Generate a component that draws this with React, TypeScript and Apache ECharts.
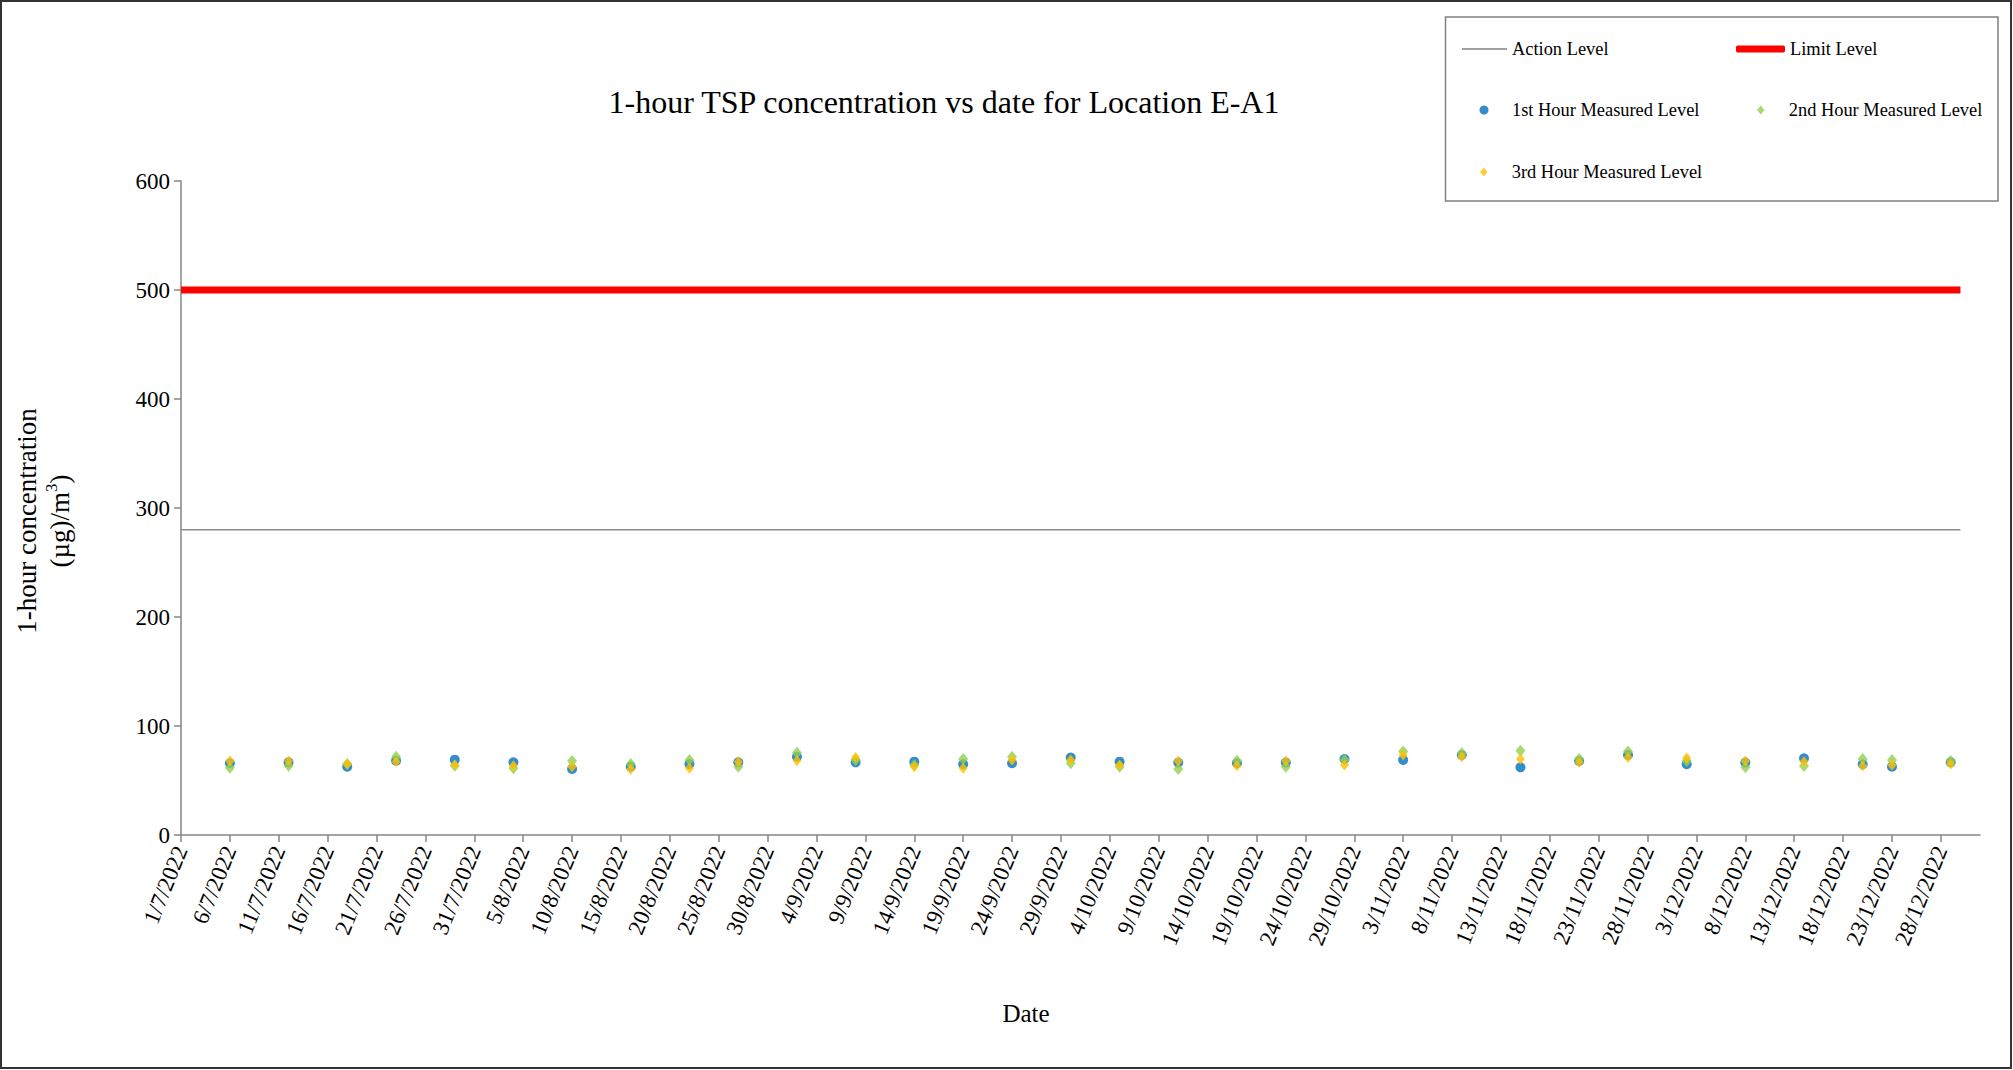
import React, { useEffect, useRef } from 'react';
import * as echarts from 'echarts';

// ---------- data ----------
const sampleDates = [
  '6/7/2022', '12/7/2022', '18/7/2022', '23/7/2022', '29/7/2022',
  '4/8/2022', '10/8/2022', '16/8/2022', '22/8/2022', '27/8/2022',
  '2/9/2022', '8/9/2022', '14/9/2022', '19/9/2022', '24/9/2022', '30/9/2022',
  '5/10/2022', '11/10/2022', '17/10/2022', '22/10/2022', '28/10/2022',
  '3/11/2022', '9/11/2022', '15/11/2022', '21/11/2022', '26/11/2022',
  '2/12/2022', '8/12/2022', '14/12/2022', '20/12/2022', '23/12/2022', '29/12/2022',
];
const hour1 = [65.8, 66.7, 62.7, 68.2, 69.1, 66.7, 60.6, 62.7, 65.1, 66.7, 71.9, 66.7, 67.3, 64.9, 65.8, 71.0, 67.3, 66.4, 65.8, 66.4, 69.7, 68.8, 73.4, 62.1, 67.9, 73.4, 64.9, 66.4, 70.3, 64.9, 62.7, 66.7];
const hour2 = [61.8, 63.6, 65.1, 71.9, 63.6, 61.2, 67.9, 65.1, 68.8, 62.7, 75.5, 68.8, 64.2, 69.7, 71.9, 65.8, 62.7, 60.6, 68.2, 62.7, 68.8, 76.5, 74.9, 77.4, 69.7, 76.5, 67.9, 62.1, 63.3, 69.7, 68.8, 67.9];
const hour3 = [67.9, 67.9, 65.1, 67.3, 64.2, 63.6, 62.7, 60.3, 61.2, 67.3, 68.2, 71.2, 62.7, 61.2, 68.8, 68.8, 64.2, 67.9, 63.6, 67.9, 64.2, 73.4, 71.9, 69.7, 66.7, 71.2, 70.6, 67.9, 67.3, 63.3, 64.2, 65.1];

const actionLevel = 280;
const limitLevel = 500;
const levelLineDates = ['1/7/2022', '30/12/2022'];
const axisRange = ['1/7/2022', '1/1/2023'];
const tickDates = [
  '1/7/2022', '6/7/2022', '11/7/2022', '16/7/2022', '21/7/2022', '26/7/2022', '31/7/2022',
  '5/8/2022', '10/8/2022', '15/8/2022', '20/8/2022', '25/8/2022', '30/8/2022',
  '4/9/2022', '9/9/2022', '14/9/2022', '19/9/2022', '24/9/2022', '29/9/2022',
  '4/10/2022', '9/10/2022', '14/10/2022', '19/10/2022', '24/10/2022', '29/10/2022',
  '3/11/2022', '8/11/2022', '13/11/2022', '18/11/2022', '23/11/2022', '28/11/2022',
  '3/12/2022', '8/12/2022', '13/12/2022', '18/12/2022', '23/12/2022', '28/12/2022',
];
const yMin = 0;
const yMax = 600;
const yInterval = 100;

const seriesNames = ['Action Level', 'Limit Level', '1st Hour Measured Level', '2nd Hour Measured Level', '3rd Hour Measured Level'];

// ---------- helpers ----------
const DAY = 86400000;
const toUTC = (s: string) => {
  const [d, m, y] = s.split('/').map(Number);
  return Date.UTC(y, m - 1, d);
};
const ORIGIN = toUTC(axisRange[0]);
// days elapsed since the axis origin
const dayOf = (s: string) => Math.round((toUTC(s) - ORIGIN) / DAY);
const fmtDay = (v: number) => {
  const d = new Date(ORIGIN + Math.round(v) * DAY);
  return `${d.getUTCDate()}/${d.getUTCMonth() + 1}/${d.getUTCFullYear()}`;
};

const FONT = '"Liberation Serif", "Times New Roman", serif';
const AXIS_COLOR = '#868686';

export default function App() {
  const ref = useRef<HTMLDivElement>(null);

  useEffect(() => {
    document.body.style.margin = '0';
    const chart = echarts.init(ref.current!, undefined, { renderer: 'svg' });
    const ticks = tickDates.map(dayOf);
    const pts = (vals: number[]) => sampleDates.map((d, i) => [dayOf(d), vals[i]]);
    const lvl = (v: number) => levelLineDates.map((d) => [dayOf(d), v]);

    const legendBase = {
      orient: 'horizontal',
      padding: 0,
      itemWidth: 46,
      textStyle: { fontFamily: FONT, fontSize: 18.4, color: '#000' },
      selectedMode: false,
    };
    const diamondIcon = 'path://M5,0 L10,6 L5,12 L0,6 Z';

    chart.setOption({
      animation: false,
      backgroundColor: '#fff',
      textStyle: { fontFamily: FONT },
      title: {
        text: '1-hour TSP concentration vs date for Location E-A1',
        left: 944,
        top: 86,
        textAlign: 'center',
        padding: 0,
        textStyle: { fontFamily: FONT, fontSize: 32, fontWeight: 'normal', color: '#000' },
      },
      legend: [
        { ...legendBase, left: 1462, top: 40, itemWidth: 45, itemHeight: 2, data: [{ name: seriesNames[0], icon: 'rect' }] },
        { ...legendBase, left: 1736, top: 40, itemWidth: 49, itemHeight: 7, data: [{ name: seriesNames[1], icon: 'roundRect' }] },
        { ...legendBase, left: 1479.5, top: 101, itemHeight: 9, data: [{ name: seriesNames[2], icon: 'circle' }] },
        { ...legendBase, left: 1757, top: 101, itemHeight: 9, data: [{ name: seriesNames[3], icon: diamondIcon }] },
        { ...legendBase, left: 1480, top: 163, itemHeight: 9, data: [{ name: seriesNames[4], icon: diamondIcon }] },
      ],
      grid: { left: 181, top: 181, right: 33, bottom: 235, containLabel: false },
      xAxis: {
        type: 'value',
        min: dayOf(axisRange[0]),
        max: dayOf(axisRange[1]),
        splitLine: { show: false },
        axisLine: { show: true, lineStyle: { color: AXIS_COLOR, width: 1.5 } },
        axisTick: { show: true, customValues: ticks, length: 7, lineStyle: { color: AXIS_COLOR, width: 1.5 } },
        axisLabel: {
          customValues: ticks,
          formatter: (v: number) => fmtDay(v),
          rotate: 68,
          margin: 12,
          fontFamily: FONT,
          fontSize: 23,
          color: '#000',
          hideOverlap: false,
        },
        name: 'Date',
        nameLocation: 'middle',
        nameGap: 166,
        nameTextStyle: { fontFamily: FONT, fontSize: 25, color: '#000', padding: [0, 109, 0, 0] },
      },
      yAxis: {
        type: 'value',
        min: yMin,
        max: yMax,
        interval: yInterval,
        splitLine: { show: false },
        axisLine: { show: true, lineStyle: { color: AXIS_COLOR, width: 1.5 } },
        axisTick: { show: true, length: 7, lineStyle: { color: AXIS_COLOR, width: 1.5 } },
        axisLabel: { fontFamily: FONT, fontSize: 23, color: '#000', margin: 11 },
        name: '{t|1-hour concentration}\n{t|(µg)/m}{s|3}{t|)}',
        nameLocation: 'middle',
        nameRotate: 90,
        nameGap: 105,
        nameTextStyle: {
          padding: [0, 26, 0, 0],
          rich: {
            t: { fontFamily: FONT, fontSize: 27, color: '#000', lineHeight: 33 },
            s: { fontFamily: FONT, fontSize: 17, color: '#000', verticalAlign: 'top', lineHeight: 33, padding: [0, 0, 10, 0] },
          },
        },
      },
      series: [
        {
          name: seriesNames[0], type: 'line', data: lvl(actionLevel), symbol: 'none',
          itemStyle: { color: '#a0a0a0' },
          lineStyle: { color: '#8c8c8c', width: 1.5 }, z: 2,
        },
        {
          name: seriesNames[1], type: 'line', data: lvl(limitLevel), symbol: 'none',
          itemStyle: { color: '#ff0000' },
          lineStyle: { color: '#ff0000', width: 7, cap: 'butt' }, z: 2,
        },
        {
          name: seriesNames[2], type: 'scatter', data: pts(hour1), symbol: 'circle', symbolSize: 10,
          itemStyle: { color: '#0070C0' }, z: 3,
        },
        {
          name: seriesNames[3], type: 'scatter', data: pts(hour2), symbol: 'diamond', symbolSize: [10, 12],
          itemStyle: { color: '#92D050' }, z: 4,
        },
        {
          name: seriesNames[4], type: 'scatter', data: pts(hour3), symbol: 'diamond', symbolSize: [9, 11],
          itemStyle: { color: '#FFC000' }, z: 5,
        },
      ],
      graphic: [
        {
          type: 'rect', z: 100, silent: true,
          shape: { x: 1, y: 1, width: 2010, height: 1067 },
          style: { fill: 'none', stroke: '#333', lineWidth: 2 },
        },
        {
          type: 'rect', z: 100, silent: true,
          shape: { x: 1445.5, y: 17, width: 552.5, height: 184 },
          style: { fill: 'none', stroke: '#808080', lineWidth: 1.5 },
        },
      ],
    });
    return () => chart.dispose();
  }, []);

  return <div ref={ref} style={{ width: 2013, height: 1070 }} />;
}
